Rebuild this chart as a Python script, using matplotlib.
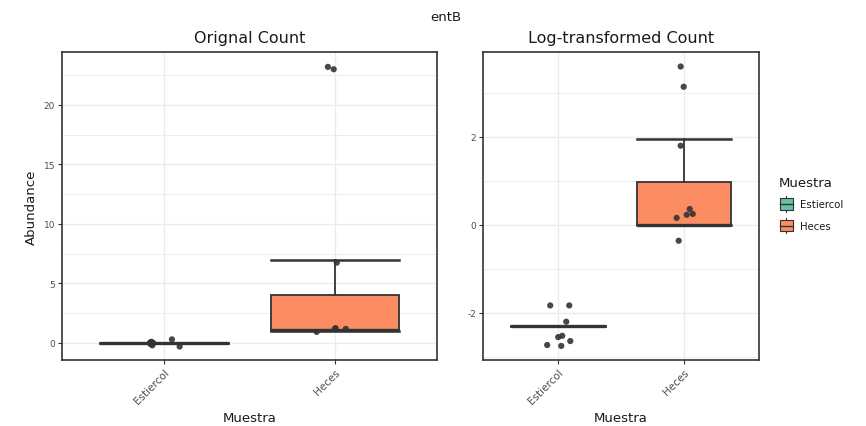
import matplotlib
matplotlib.use("Agg")
import matplotlib.pyplot as plt
from matplotlib.patches import Rectangle, Patch
from matplotlib.lines import Line2D
from matplotlib.legend_handler import HandlerBase

plt.rcParams['font.family'] = ['DejaVu Sans']

categories = ["Estiercol", "Heces"]
colors = ["#66C2A5", "#FC8D62"]

# Box statistics: [whislo, q1, med, q3, whishi] per category
raw_stats = [[0.0, 0.0, 0.0, 0.0, 0.0],
             [1.0, 1.0, 1.05, 4.0, 7.0]]
log_stats = [[-2.3, -2.3, -2.3, -2.3, -2.3],
             [0.0, 0.0, 0.0, 0.98, 1.95]]

# Jittered sample points: (category index, horizontal offset, value)
raw_points_cat = [0, 0, 0, 0, 0, 0, 0, 0, 1, 1, 1, 1, 1, 1, 1]
raw_points_dx = [-0.085, -0.075, -0.07, -0.08, -0.065, 0.045, 0.09, -0.08,
                 -0.106, 0.0, 0.065, 0.012, -0.04, -0.006, 0.005]
raw_points_y = [0.0, 0.1, -0.2, -0.1, 0.0, 0.3, -0.3, 0.05,
                0.93, 1.18, 1.18, 6.75, 23.2, 23.0, 1.25]

log_points_cat = [0, 0, 0, 0, 0, 0, 0, 0, 1, 1, 1, 1, 1, 1, 1, 1]
log_points_dx = [-0.064, 0.088, 0.064, 0.0, 0.032, 0.096, -0.088, 0.024,
                 -0.024, 0.0, -0.024, -0.056, 0.024, 0.048, 0.072, -0.04]
log_points_y = [-1.83, -1.83, -2.2, -2.55, -2.52, -2.64, -2.73, -2.75,
                3.6, 3.14, 1.8, 0.16, 0.23, 0.36, 0.25, -0.36]

raw_yticks = [0, 5, 10, 15, 20]
log_yticks = [-2, 0, 2]

EDGE = "#333333"
GRID = "#EBEBEB"
TICK_TXT = "#4D4D4D"


def draw_panel(ax, stats, pc, pdx, py, title, ylim, yticks, minor):
    bstats = []
    for s in stats:
        bstats.append(dict(whislo=s[0], q1=s[1], med=s[2], q3=s[3],
                           whishi=s[4], fliers=[]))
    bp = ax.bxp(bstats, positions=[1, 2], widths=0.75, capwidths=0.75,
                patch_artist=True, showfliers=False,
                boxprops=dict(edgecolor=EDGE, linewidth=1.3),
                medianprops=dict(color=EDGE, linewidth=2.4),
                whiskerprops=dict(color=EDGE, linewidth=1.3),
                capprops=dict(color=EDGE, linewidth=1.8))
    for patch, c in zip(bp['boxes'], colors):
        patch.set_facecolor(c)
    for b in bp['boxes'] + bp['medians'] + bp['whiskers'] + bp['caps']:
        b.set_zorder(2)
    xs = [c + 1 + d for c, d in zip(pc, pdx)]
    ax.scatter(xs, py, s=20, color="#333333", edgecolors="none", zorder=3,
               alpha=0.9)
    ax.set_xlim(0.4, 2.6)
    ax.set_ylim(*ylim)
    ax.set_xticks([1, 2])
    ax.set_xticklabels(categories, rotation=45, ha="right",
                       rotation_mode="anchor", fontsize=7.5, color=TICK_TXT)
    ax.set_yticks(yticks)
    ax.set_yticklabels([str(t) for t in yticks], fontsize=6.5, color=TICK_TXT)
    ax.set_yticks(minor, minor=True)
    ax.tick_params(axis='y', which='minor', length=0)
    ax.tick_params(axis='both', which='major', length=3, width=0.8,
                   color="#333333", pad=2)
    ax.grid(True, which='major', color=GRID, linewidth=1.0, zorder=0)
    ax.grid(True, which='minor', axis='y', color=GRID, linewidth=0.6, zorder=0)
    ax.set_axisbelow(True)
    for sp in ax.spines.values():
        sp.set_color("#333333")
        sp.set_linewidth(1.2)
    ax.set_title(title, fontsize=11.5, color="#1A1A1A", pad=7)
    ax.set_xlabel("Muestra", fontsize=9.5, color="#1A1A1A", labelpad=4)


fig = plt.figure(figsize=(8.66, 4.27), dpi=100)
ax1 = fig.add_axes([0.0716, 0.1546, 0.4330, 0.7213])
ax2 = fig.add_axes([0.5577, 0.1546, 0.3187, 0.7213])

draw_panel(ax1, raw_stats, raw_points_cat, raw_points_dx, raw_points_y,
           "Orignal Count", (-1.43, 24.45), raw_yticks,
           [2.5, 7.5, 12.5, 17.5, 22.5])
ax1.set_ylabel("Abundance", fontsize=9.5, color="#1A1A1A", labelpad=4)

draw_panel(ax2, log_stats, log_points_cat, log_points_dx, log_points_y,
           "Log-transformed Count", (-3.07, 3.93), log_yticks,
           [-3, -1, 1, 3])

fig.text(0.515, 0.96, "entB", fontsize=9.5, ha="center", va="center",
         color="#1A1A1A")


class BoxKeyHandler(HandlerBase):
    def create_artists(self, legend, orig_handle, xdescent, ydescent,
                       width, height, fontsize, trans):
        fc = orig_handle.get_facecolor()
        bw = width * 0.85
        bh = height * 0.62
        x0 = xdescent + (width - bw) / 2
        y0 = -ydescent + (height - bh) / 2
        rect = Rectangle((x0, y0), bw, bh, facecolor=fc,
                         edgecolor=EDGE, linewidth=0.8, transform=trans)
        cx = x0 + bw / 2
        med = Line2D([x0, x0 + bw], [y0 + bh / 2] * 2, color=EDGE,
                     linewidth=1.0, transform=trans)
        wt = Line2D([cx, cx], [y0 + bh, -ydescent + height * 0.92],
                    color=EDGE, linewidth=0.8, transform=trans)
        wb = Line2D([cx, cx], [-ydescent + height * 0.08, y0], color=EDGE,
                    linewidth=0.8, transform=trans)
        return [rect, med, wt, wb]


handles = [Patch(facecolor=c, edgecolor=EDGE) for c in colors]
leg = fig.legend(handles, categories, title="Muestra",
                 handler_map={Patch: BoxKeyHandler()},
                 loc="upper left", bbox_to_anchor=(0.899, 0.585),
                 frameon=False, fontsize=7.3, title_fontsize=9.5,
                 handlelength=1.5, handleheight=2.4, handletextpad=0.6,
                 labelspacing=0.35, borderaxespad=0, borderpad=0)
leg._legend_box.align = "left"
leg._legend_box.sep = 4
for t in leg.get_texts():
    t.set_color("#1A1A1A")
leg.get_title().set_color("#1A1A1A")

fig.savefig("out.png", dpi=100, facecolor="white")
